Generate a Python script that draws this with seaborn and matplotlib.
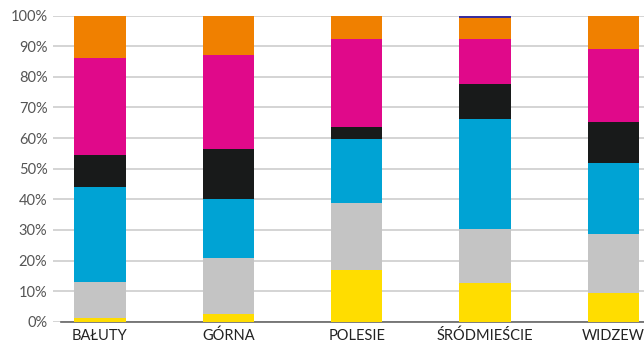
import numpy as np
import pandas as pd
import matplotlib
matplotlib.use("Agg")
import matplotlib.pyplot as plt
import seaborn as sns

# --- datos ---
dzielnice = ["BAŁUTY", "GÓRNA", "POLESIE", "ŚRÓDMIEŚCIE", "WIDZEW"]
s_zolty = [1.3, 2.4, 16.9, 12.5, 9.5]
s_szary = [11.8, 18.3, 21.8, 17.9, 19.2]
s_niebieski = [30.9, 19.3, 21.1, 35.9, 23.2]
s_czarny = [10.6, 16.5, 3.9, 11.4, 13.5]
s_magenta = [31.6, 30.7, 28.8, 14.8, 23.8]
s_pomarancz = [13.8, 12.8, 7.5, 6.8, 10.8]
s_granat = [0.0, 0.0, 0.0, 0.7, 0.0]

serie = [s_zolty, s_szary, s_niebieski, s_czarny, s_magenta, s_pomarancz, s_granat]
kolory = ["#FFDD00", "#C4C4C4", "#00A3D4", "#181A1A", "#E0098A", "#F08000", "#3A2E9C"]

sns.set_style("white")
plt.rcParams["font.family"] = ["Lato", "DejaVu Sans"]

fig = plt.figure(figsize=(6.44, 3.44), dpi=100)
ax = fig.add_axes([53 / 644, 22.3 / 344, 1 - 53 / 644, (321.7 - 15.7) / 344])

# skumulowane sumy, rysowane od najwyzszej do najnizszej
skum = np.cumsum(np.array(serie), axis=0)
for i in range(len(serie) - 1, -1, -1):
    df = pd.DataFrame({"dzielnica": dzielnice, "wartosc": skum[i]})
    sns.barplot(data=df, x="dzielnica", y="wartosc", color=kolory[i],
                width=0.4, saturation=1, ax=ax, zorder=3, linewidth=0)

ax.set_ylim(0, 100)
ax.set_xlim(-0.366, 4.237)
ax.set_yticks(range(0, 101, 10))
ax.set_yticklabels([f"{v}%" for v in range(0, 101, 10)])
ax.yaxis.grid(True, color="#d4d4d4", linewidth=1.4, zorder=0)
ax.set_axisbelow(True)
for s in ["top", "right", "left"]:
    ax.spines[s].set_visible(False)
ax.spines["bottom"].set_color("#666666")
ax.spines["bottom"].set_linewidth(1.2)
ax.spines["bottom"].set_bounds(-0.3, 4.237)
ax.tick_params(axis="both", length=0)
ax.tick_params(axis="y", labelsize=10.5, labelcolor="#555555", pad=4)
ax.tick_params(axis="x", labelsize=10.5, labelcolor="#222222", pad=5)
ax.set_xlabel("")
ax.set_ylabel("")

fig.savefig("out.png", dpi=100)
